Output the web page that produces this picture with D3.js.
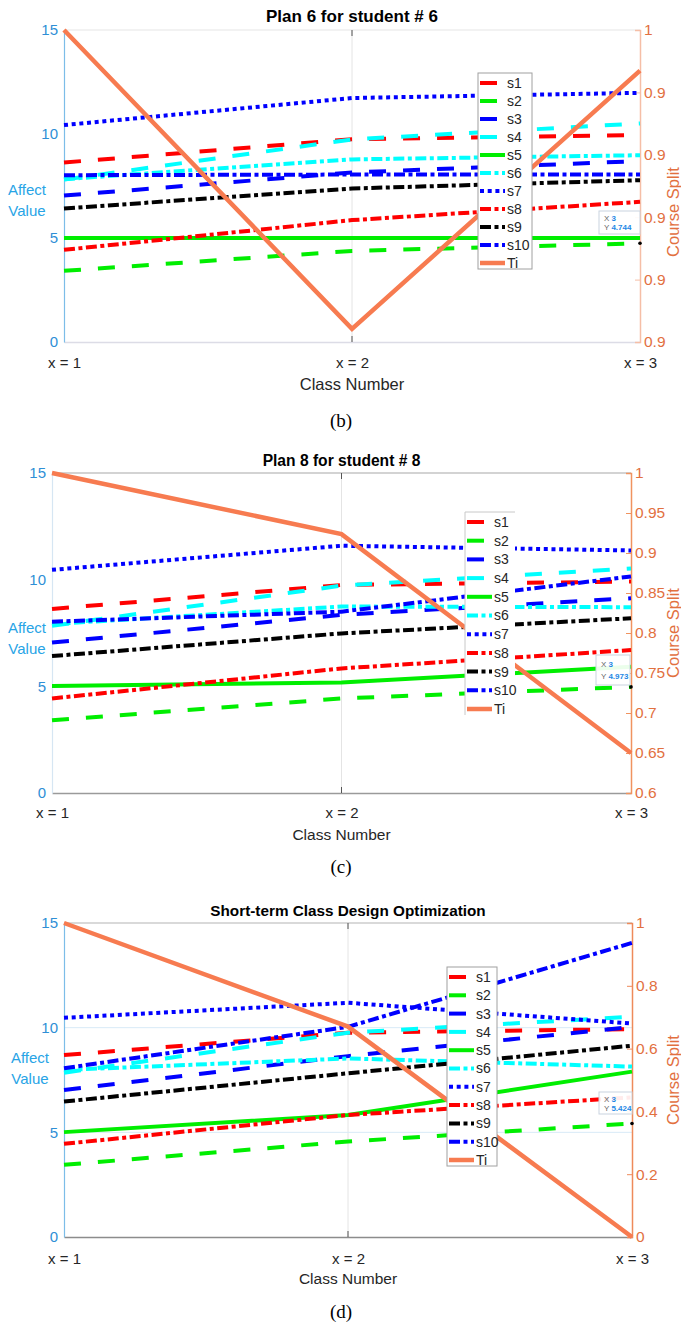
<!DOCTYPE html>
<html>
<head>
<meta charset="utf-8">
<script src="https://cdn.jsdelivr.net/npm/d3@7"></script>
<style>
  body { margin: 0; background: #fff; }
  text { font-family: "Liberation Sans", Arial, sans-serif; }
</style>
</head>
<body>
<script>
// categories and series
var classLabels = ["x = 1", "x = 2", "x = 3"];
var seriesNames = ["s1", "s2", "s3", "s4", "s5", "s6", "s7", "s8", "s9", "s10"];
var seriesColors = ["#ff0000", "#00ee00", "#0000ff", "#00ffff", "#00ee00",
                    "#00ffff", "#0000ff", "#ff0000", "#000000", "#0000ff"];
var seriesStyles = ["--", "--", "--", "--", "-", "-.", ":", "-.", "-.", "-."];

// (b) Plan 6 for student # 6
var affectB = [
  [8.63, 9.75, 9.95], [3.42, 4.38, 4.744], [7.04, 8.15, 8.70], [7.81, 9.74, 10.51],
  [5.0, 5.0, 5.0], [7.83, 8.78, 8.98], [10.43, 11.73, 11.98], [4.43, 5.86, 6.74],
  [6.42, 7.38, 7.78], [8.02, 8.05, 8.05]
];
var splitB = [1.0, 0.9521, 0.9935];
var splitTicksB = [0.95, 0.96, 0.97, 0.98, 0.99, 1.0];
var splitLabelsB = ["0.9", "0.9", "0.9", "0.9", "0.9", "1"];

// (c) Plan 8 for student # 8
var affectC = [
  [8.63, 9.75, 9.91], [3.41, 4.43, 4.973], [7.05, 8.35, 9.13], [7.84, 9.72, 10.52],
  [5.01, 5.18, 5.92], [7.92, 8.74, 8.71], [10.46, 11.59, 11.37], [4.43, 5.84, 6.70],
  [6.42, 7.48, 8.19], [8.03, 8.50, 10.15]
];
var splitC = [1.0, 0.9236, 0.65];
var splitTicksC = [0.6, 0.65, 0.7, 0.75, 0.8, 0.85, 0.9, 0.95, 1.0];
var splitLabelsC = ["0.6", "0.65", "0.7", "0.75", "0.8", "0.85", "0.9", "0.95", "1"];

// (d) Short-term Class Design Optimization
var affectD = [
  [8.69, 9.76, 9.93], [3.45, 4.56, 5.424], [7.02, 8.64, 10.04], [7.85, 9.76, 10.52],
  [5.01, 5.83, 7.90], [7.98, 8.53, 8.14], [10.47, 11.19, 10.20], [4.45, 5.83, 6.67],
  [6.47, 7.82, 9.14], [8.06, 10.04, 14.05]
];
var splitD = [1.0, 0.67, 0.0];
var splitTicksD = [0, 0.2, 0.4, 0.6, 0.8, 1.0];
var splitLabelsD = ["0", "0.2", "0.4", "0.6", "0.8", "1"];

var affectTicks = [0, 5, 10, 15];

var dashMap = { "--": "17,17", "-": null, ":": "4,3.7", "-.": "11,3.5,4,3.5" };
var tiColor = "#f77b50";
var orangeText = "#e2703f";
var blueText = "#2f8fd6";

var svg = d3.select("body").append("svg")
  .attr("width", 681).attr("height", 1324)
  .style("background", "#fff");

var panels = [
  { title: "Plan 6 for student # 6", titleSize: 17, caption: "(b)", affect: affectB, split: splitB,
    sTicks: splitTicksB, sLabels: splitLabelsB, top: 30, bottom: 342, left: 64, right: 640,
    titleY: 22, xLabY: 363, classY: 384, classSize: 16.5, capY: 427,
    legend: { x: 478, y: 73, w: 54, h: 196, border: true },
    tip: { x: 599, y: 211, w: 41, h: 23, val: "4.744" }, hGrid: [], topColor: "#e6e6e6",
    bottomColor: "#dcdce6", leftColor: "#7cbde8", rightColor: "#f5bea6",
    affectX: 27, affectY: 190, splitY: 212 },
  { title: "Plan 8 for student # 8", titleSize: 15.6, caption: "(c)", affect: affectC, split: splitC,
    sTicks: splitTicksC, sLabels: splitLabelsC, top: 473, bottom: 793, left: 52, right: 631,
    titleY: 466, xLabY: 813, classY: 835, classSize: 15.5, capY: 873,
    legend: { x: 465, y: 512, w: 50, h: 203, border: false },
    tip: { x: 596, y: 655, w: 34, h: 30, val: "4.973" }, hGrid: [], topColor: "#a8a8a8",
    bottomColor: "#9a9a9a", leftColor: "#d6e6f3", rightColor: "#f0935f",
    affectX: 27, affectY: 628, splitY: 633 },
  { title: "Short-term Class Design Optimization", titleSize: 15.3, caption: "(d)", affect: affectD,
    split: splitD, sTicks: splitTicksD, sLabels: splitLabelsD, top: 923, bottom: 1237, left: 64, right: 632,
    titleY: 916, xLabY: 1259, classY: 1279, classSize: 15.5, capY: 1318,
    legend: { x: 447, y: 967, w: 50, h: 199, border: true },
    tip: { x: 599, y: 1092, w: 33, h: 22, val: "5.424" }, hGrid: [5, 10], topColor: "#b4b4b4",
    bottomColor: "#8c8c8c", leftColor: "#7cbde8", rightColor: "#ee8a5a",
    affectX: 30, affectY: 1058, splitY: 1080 }
];

panels.forEach(drawPanel);

function drawPanel(p) {
  var g = svg.append("g");
  var x = d3.scaleLinear().domain([1, 3]).range([p.left, p.right]);
  var y = d3.scaleLinear().domain([0, 15]).range([p.bottom, p.top]);
  var yR = d3.scaleLinear().domain(d3.extent(p.sTicks)).range([p.bottom, p.top]);

  // grid
  g.append("line").attr("x1", x(2)).attr("x2", x(2)).attr("y1", p.top).attr("y2", p.bottom)
    .attr("stroke", "#e4e4e4").attr("stroke-width", 1);
  p.hGrid.forEach(function (v) {
    g.append("line").attr("x1", p.left).attr("x2", p.right).attr("y1", y(v)).attr("y2", y(v))
      .attr("stroke", "#d8eaf7").attr("stroke-width", 1);
  });
  g.append("line").attr("x1", p.left).attr("x2", p.right).attr("y1", p.top).attr("y2", p.top)
    .attr("stroke", p.topColor).attr("stroke-width", 1.2);

  // bottom axis
  var xAxis = d3.axisBottom(x).tickValues([1, 2, 3])
    .tickFormat(function (d) { return classLabels[d - 1]; }).tickSize(0).tickPadding(0);
  var gx = g.append("g").attr("transform", "translate(0," + p.bottom + ")").call(xAxis);
  gx.select(".domain").attr("stroke", p.bottomColor).attr("stroke-width", 1.5);
  gx.selectAll("text").attr("y", p.xLabY - p.bottom).attr("dy", "0.35em")
    .attr("font-size", 15).attr("fill", "#262626").style("font-family", "Liberation Sans, Arial");
  g.append("line").attr("x1", x(2)).attr("x2", x(2)).attr("y1", p.bottom - 6).attr("y2", p.bottom)
    .attr("stroke", "#555");
  g.append("line").attr("x1", x(2)).attr("x2", x(2)).attr("y1", p.top).attr("y2", p.top + 6)
    .attr("stroke", "#555");
  g.append("text").attr("x", x(2)).attr("y", p.classY).attr("dy", "0.35em")
    .attr("text-anchor", "middle").attr("font-size", p.classSize).attr("fill", "#262626")
    .text("Class Number");

  // left axis
  var yAxis = d3.axisLeft(y).tickValues(affectTicks).tickSize(0).tickPadding(6);
  var gy = g.append("g").attr("transform", "translate(" + p.left + ",0)").call(yAxis);
  gy.select(".domain").attr("stroke", p.leftColor).attr("stroke-width", 1.2);
  gy.selectAll("text").attr("font-size", 15).attr("fill", blueText)
    .style("font-family", "Liberation Sans, Arial");
  g.append("text").attr("x", p.affectX).attr("y", p.affectY).attr("text-anchor", "middle")
    .attr("dy", "0.35em").attr("font-size", 15).attr("fill", "#28a4e6").text("Affect");
  g.append("text").attr("x", p.affectX).attr("y", p.affectY + 21).attr("text-anchor", "middle")
    .attr("dy", "0.35em").attr("font-size", 15).attr("fill", "#28a4e6").text("Value");

  // right axis
  var yRAxis = d3.axisRight(yR).tickValues(p.sTicks).tickSize(-5).tickPadding(4)
    .tickFormat(function (d, i) { return p.sLabels[i]; });
  var gr = g.append("g").attr("transform", "translate(" + p.right + ",0)").call(yRAxis);
  gr.select(".domain").attr("stroke", p.rightColor).attr("stroke-width", 1.5);
  gr.selectAll(".tick line").attr("stroke", p.rightColor);
  gr.selectAll("text").attr("x", 4).attr("font-size", 15.5).attr("fill", orangeText)
    .style("font-family", "Liberation Sans, Arial");
  g.append("text").attr("transform", "translate(679," + p.splitY + ") rotate(-90)")
    .attr("text-anchor", "middle").attr("font-size", 16.5).attr("fill", orangeText)
    .text("Course Split");

  // series lines
  var line = d3.line().x(function (d, i) { return x(i + 1); }).y(function (d) { return y(d); });
  p.affect.forEach(function (vals, k) {
    g.append("path").attr("d", line(vals)).attr("fill", "none")
      .attr("stroke", seriesColors[k]).attr("stroke-width", 4)
      .attr("stroke-dasharray", dashMap[seriesStyles[k]]);
  });
  var lineR = d3.line().x(function (d, i) { return x(i + 1); }).y(function (d) { return yR(d); });
  g.append("path").attr("d", lineR(p.split)).attr("fill", "none")
    .attr("stroke", tiColor).attr("stroke-width", 4.5).attr("stroke-linejoin", "miter");

  // datatip
  var tipV = p.affect[1][2];
  g.append("circle").attr("cx", x(3)).attr("cy", y(tipV)).attr("r", 1.8).attr("fill", "#000");
  g.append("rect").attr("x", p.tip.x).attr("y", p.tip.y).attr("width", p.tip.w).attr("height", p.tip.h)
    .attr("fill", "#fff").attr("fill-opacity", 0.92).attr("stroke", "#c9d3df").attr("stroke-width", 1);
  var tx = g.append("text").attr("x", p.tip.x + 5).attr("y", p.tip.y + p.tip.h * 0.32)
    .attr("font-size", 8).attr("dy", "0.35em");
  tx.append("tspan").attr("fill", "#666").text("X ");
  tx.append("tspan").attr("fill", "#1e88e5").attr("font-weight", "bold").text("3");
  var ty = g.append("text").attr("x", p.tip.x + 5).attr("y", p.tip.y + p.tip.h * 0.72)
    .attr("font-size", 8).attr("dy", "0.35em");
  ty.append("tspan").attr("fill", "#666").text("Y ");
  ty.append("tspan").attr("fill", "#1e88e5").attr("font-weight", "bold").text(p.tip.val);

  // legend
  var L = p.legend;
  var lg = g.append("g").attr("transform", "translate(" + L.x + "," + L.y + ")");
  lg.append("rect").attr("width", L.w).attr("height", L.h).attr("fill", "#fff")
    .attr("stroke", L.border ? "#a0a0a0" : "none").attr("stroke-width", 1);
  if (!L.border) {
    lg.append("path").attr("d", "M0," + L.h + "V0H" + L.w).attr("fill", "none")
      .attr("stroke", "#c8c8c8").attr("stroke-width", 1);
  }
  var names = seriesNames.concat(["Ti"]);
  var step = (L.h - 16) / 10;
  names.forEach(function (nm, k) {
    var yy = 10 + k * step;
    var isTi = k === 10;
    lg.append("line").attr("x1", 2).attr("x2", 27).attr("y1", yy).attr("y2", yy)
      .attr("stroke", isTi ? tiColor : seriesColors[k]).attr("stroke-width", isTi ? 4.5 : 4)
      .attr("stroke-dasharray", isTi ? null : dashMap[seriesStyles[k]]);
    lg.append("text").attr("x", 29).attr("y", yy).attr("dy", "0.35em")
      .attr("font-size", 14).attr("fill", "#262626").text(nm);
  });

  // title and caption
  g.append("text").attr("x", x(2)).attr("y", p.titleY).attr("text-anchor", "middle")
    .attr("font-size", p.titleSize).attr("font-weight", "bold").attr("fill", "#000").text(p.title);
  g.append("text").attr("x", 341).attr("y", p.capY).attr("text-anchor", "middle")
    .attr("font-size", 19).style("font-family", "Liberation Serif, Times New Roman, serif")
    .attr("fill", "#000").text(p.caption);
}
</script>
</body>
</html>
